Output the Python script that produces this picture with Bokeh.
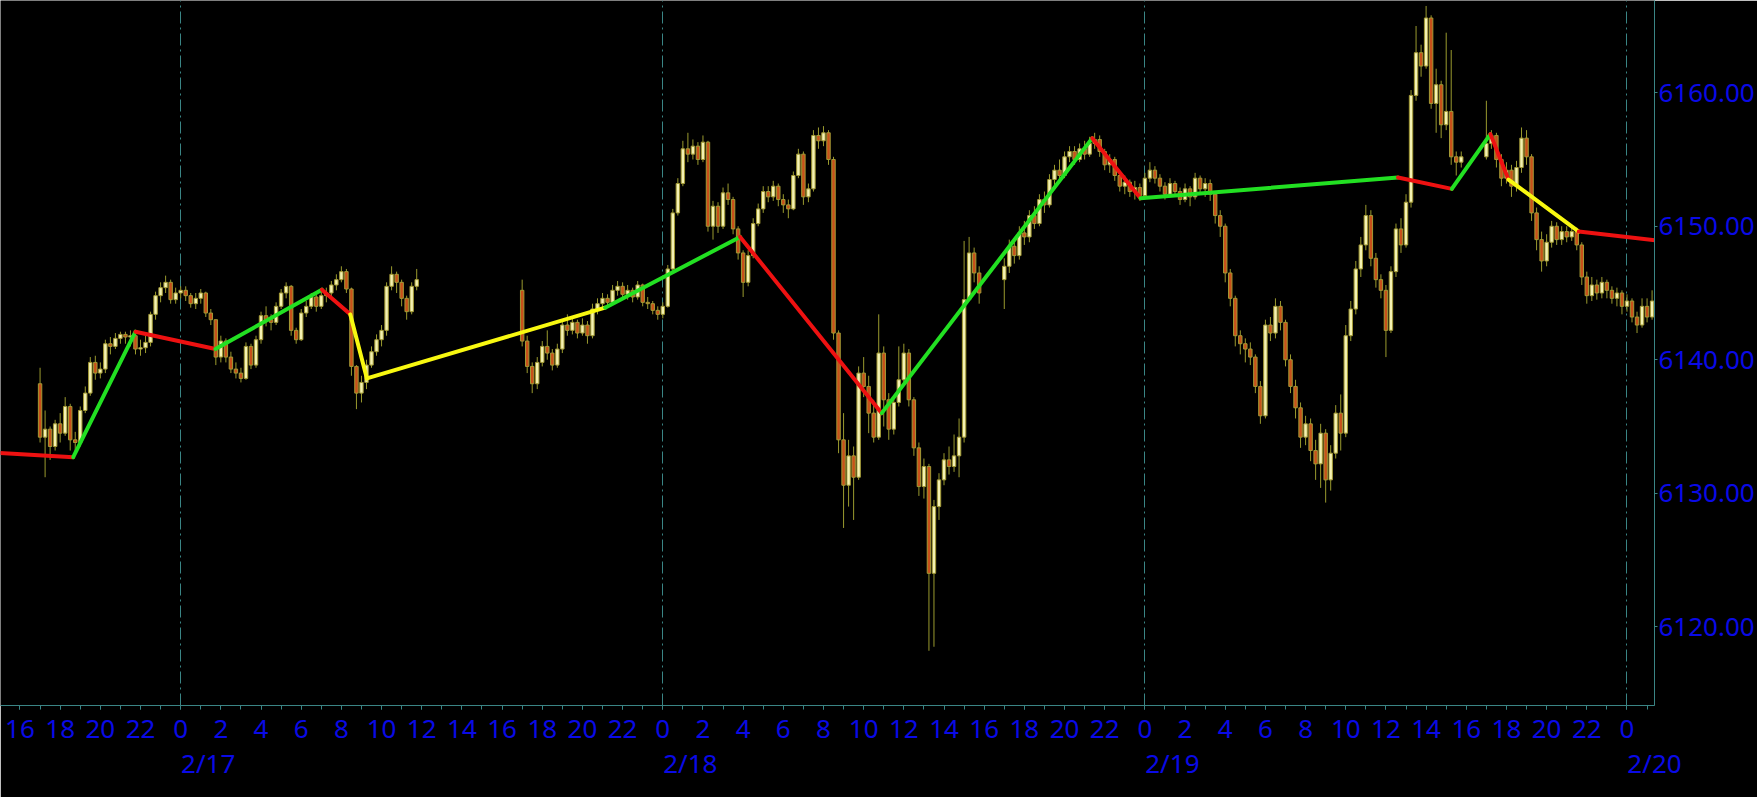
import numpy as np
from bokeh.plotting import figure
from bokeh.models import Range1d, FixedTicker, LinearAxis, PrintfTickFormatter, ColumnDataSource
from bokeh.embed import file_html
from bokeh.resources import INLINE

# ---------------- data (hours counted from 2/17 00:00, 15-minute bars) ----------------
session_start = [-7.0, 17.0, 41.0, 65.0]
session_open = [6138.2, 6145.2, 6146.0, 6155.2]

close_1 = [6134.2, 6134.8, 6133.5, 6135.2, 6134.5, 6136.5, 6134.0, 6133.8, 6136.2, 6137.5,
           6139.8, 6139.0, 6139.3, 6141.2, 6141.0, 6141.6, 6141.9, 6141.7, 6141.8, 6140.8,
           6140.9, 6141.3, 6143.4, 6144.8, 6145.4, 6145.8, 6144.5, 6145.0, 6145.2, 6144.8,
           6144.2, 6144.6, 6145.0, 6143.5, 6143.0, 6140.2, 6141.4, 6140.2, 6139.3, 6139.0,
           6138.6, 6141.0, 6139.6, 6141.5, 6143.3, 6143.0, 6142.8, 6144.0, 6145.0, 6145.5,
           6142.2, 6141.5, 6143.5, 6144.0, 6144.7, 6144.0, 6144.8, 6145.0, 6145.6, 6146.0,
           6146.6, 6145.3, 6139.5, 6137.5, 6138.3, 6139.6, 6140.6, 6141.5, 6142.2, 6145.5,
           6146.4, 6145.8, 6144.6, 6143.6, 6145.5, 6146.0]
high_1 = [6139.4, 6136.2, 6135.0, 6135.5, 6136.0, 6137.2, 6136.7, 6134.6, 6136.5, 6138.0,
          6140.2, 6140.3, 6139.8, 6141.5, 6141.7, 6142.0, 6142.1, 6142.1, 6142.2, 6142.1,
          6141.5, 6141.8, 6143.6, 6145.1, 6145.8, 6146.3, 6146.0, 6145.4, 6145.5, 6145.5,
          6145.0, 6145.0, 6145.3, 6145.1, 6143.8, 6143.0, 6141.8, 6141.6, 6140.6, 6139.8,
          6139.4, 6141.3, 6141.2, 6141.8, 6143.6, 6144.0, 6143.4, 6144.3, 6145.3, 6145.8,
          6145.6, 6142.4, 6143.8, 6144.4, 6145.0, 6144.9, 6145.2, 6145.4, 6145.9, 6146.4,
          6147.0, 6146.8, 6145.4, 6139.6, 6138.8, 6140.0, 6141.0, 6141.9, 6142.6, 6145.8,
          6147.0, 6146.6, 6146.0, 6144.8, 6145.8, 6146.8]
low_1 = [6133.8, 6131.2, 6132.5, 6133.2, 6133.8, 6134.3, 6133.2, 6132.8, 6133.5, 6136.0,
         6137.3, 6138.5, 6138.6, 6139.0, 6140.4, 6140.8, 6141.2, 6141.2, 6141.0, 6140.4,
         6140.3, 6140.5, 6141.0, 6143.0, 6144.3, 6145.0, 6144.2, 6144.2, 6144.6, 6144.4,
         6143.9, 6143.8, 6144.2, 6143.2, 6142.6, 6139.6, 6139.8, 6139.8, 6139.0, 6138.6,
         6138.3, 6138.5, 6139.3, 6139.4, 6141.2, 6142.5, 6142.2, 6142.6, 6143.8, 6144.6,
         6141.8, 6141.2, 6141.4, 6143.2, 6143.8, 6143.6, 6143.8, 6144.3, 6144.6, 6145.2,
         6145.8, 6145.0, 6138.8, 6136.3, 6136.8, 6137.8, 6139.4, 6140.3, 6141.0, 6141.8,
         6145.2, 6145.0, 6144.0, 6143.0, 6143.4, 6145.2]

close_2 = [6141.4, 6139.5, 6138.2, 6139.8, 6141.0, 6140.5, 6139.6, 6140.8, 6142.6, 6142.2,
           6142.8, 6142.0, 6142.6, 6141.8, 6143.8, 6144.2, 6144.6, 6144.3, 6145.2, 6145.5,
           6144.9, 6145.2, 6144.7, 6145.6, 6144.3, 6144.2, 6143.7, 6143.4, 6144.0, 6146.8,
           6151.0, 6153.2, 6155.8, 6155.4, 6156.0, 6155.0, 6156.3, 6150.0, 6151.5, 6150.0,
           6152.5, 6152.0, 6149.8, 6148.0, 6145.8, 6147.8, 6150.2, 6151.3, 6152.6, 6152.2,
           6153.0, 6152.0, 6151.6, 6151.3, 6153.8, 6155.4, 6152.2, 6152.8, 6156.8, 6156.4,
           6157.0, 6155.0, 6142.0, 6134.0, 6130.6, 6132.8, 6131.2, 6139.0, 6138.0, 6136.0,
           6134.2, 6140.5, 6137.0, 6134.8, 6136.8, 6138.5, 6140.5, 6137.0, 6133.4, 6130.5,
           6132.0, 6124.0, 6129.0, 6131.0, 6132.5, 6132.0, 6132.8, 6134.2, 6144.5, 6148.0,
           6146.5, 6145.0]
high_2 = [6146.0, 6141.8, 6139.8, 6140.2, 6141.4, 6142.2, 6140.8, 6141.2, 6143.0, 6143.4,
          6143.2, 6143.0, 6143.1, 6142.9, 6144.2, 6144.6, 6145.0, 6144.9, 6145.6, 6145.9,
          6145.8, 6145.6, 6145.4, 6145.9, 6145.7, 6144.7, 6144.4, 6144.0, 6144.3, 6147.1,
          6151.3, 6153.6, 6156.4, 6157.0, 6156.5, 6156.3, 6156.8, 6156.4, 6151.9, 6151.8,
          6152.9, 6153.2, 6152.2, 6150.0, 6148.2, 6148.2, 6150.6, 6151.7, 6153.0, 6153.0,
          6153.4, 6153.2, 6152.4, 6152.0, 6154.1, 6155.8, 6155.6, 6153.2, 6157.2, 6157.4,
          6157.5, 6157.2, 6155.2, 6142.2, 6136.0, 6134.0, 6133.5, 6139.5, 6140.2, 6138.8,
          6137.0, 6143.4, 6141.0, 6137.5, 6137.2, 6141.0, 6141.2, 6140.8, 6137.2, 6133.8,
          6132.6, 6132.2, 6129.5, 6131.5, 6133.0, 6133.5, 6134.4, 6135.6, 6148.9, 6149.2,
          6148.4, 6147.0]
low_2 = [6141.0, 6139.0, 6137.5, 6137.8, 6139.5, 6140.0, 6139.2, 6139.4, 6140.5, 6141.8,
         6141.9, 6141.6, 6141.8, 6141.2, 6141.6, 6143.4, 6143.9, 6143.9, 6144.1, 6144.8,
         6144.6, 6144.5, 6144.3, 6144.5, 6144.0, 6143.8, 6143.4, 6143.0, 6143.1, 6143.9,
         6146.6, 6150.8, 6153.0, 6154.8, 6155.0, 6154.6, 6154.8, 6149.6, 6149.0, 6149.5,
         6149.8, 6151.6, 6149.4, 6147.5, 6144.7, 6145.5, 6147.6, 6150.0, 6151.0, 6151.8,
         6151.9, 6151.5, 6151.0, 6150.6, 6151.2, 6153.6, 6151.6, 6151.8, 6152.6, 6155.8,
         6156.0, 6154.6, 6141.5, 6133.0, 6127.4, 6129.0, 6128.0, 6131.0, 6137.2, 6134.5,
         6133.8, 6134.0, 6135.0, 6134.0, 6134.4, 6136.5, 6138.2, 6136.5, 6132.8, 6129.8,
         6129.6, 6118.2, 6118.5, 6128.0, 6130.6, 6131.4, 6131.6, 6131.2, 6133.8, 6146.0,
         6145.8, 6144.2]

close_3 = [6147.0, 6148.5, 6147.8, 6149.5, 6149.2, 6150.8, 6150.2, 6152.0, 6151.6, 6153.5,
           6154.2, 6153.8, 6155.2, 6155.6, 6155.0, 6155.8, 6155.4, 6156.2, 6156.5, 6155.6,
           6154.6, 6155.0, 6153.8, 6153.0, 6153.3, 6152.6, 6152.9, 6152.3, 6153.6, 6154.2,
           6153.6, 6153.0, 6152.4, 6153.2, 6152.6, 6152.0, 6152.8, 6152.2, 6153.6, 6152.8,
           6153.2, 6152.4, 6150.8, 6150.0, 6146.5, 6144.6, 6141.8, 6141.2, 6140.8, 6140.2,
           6138.0, 6135.8, 6142.6, 6142.0, 6144.0, 6142.8, 6140.0, 6138.0, 6136.4, 6134.2,
           6135.2, 6133.2, 6132.2, 6134.5, 6131.0, 6133.0, 6136.0, 6134.5, 6141.8, 6143.8,
           6146.8, 6148.6, 6150.8, 6147.6, 6146.0, 6145.2, 6142.2, 6146.6, 6149.8, 6148.6,
           6151.8, 6159.8, 6163.0, 6162.0, 6165.6, 6159.2, 6160.6, 6157.6, 6158.6, 6155.2,
           6154.8, 6155.2]
high_3 = [6147.6, 6149.0, 6149.0, 6150.0, 6150.4, 6151.2, 6151.5, 6152.4, 6152.6, 6153.9,
          6154.6, 6155.0, 6155.6, 6156.0, 6156.0, 6156.2, 6156.4, 6156.7, 6157.0, 6156.8,
          6155.8, 6155.4, 6155.2, 6154.0, 6153.8, 6153.5, 6153.4, 6153.2, 6154.0, 6154.8,
          6154.5, 6153.9, 6153.3, 6153.6, 6153.4, 6152.9, 6153.2, 6153.0, 6154.0, 6153.8,
          6153.6, 6153.5, 6152.6, 6151.2, 6150.2, 6146.8, 6144.8, 6142.2, 6141.6, 6141.3,
          6140.4, 6138.4, 6143.0, 6143.2, 6144.6, 6144.4, 6143.0, 6140.4, 6138.5, 6136.8,
          6135.8, 6135.6, 6134.0, 6135.2, 6134.8, 6133.6, 6136.6, 6137.4, 6142.6, 6144.4,
          6147.4, 6149.2, 6151.6, 6151.2, 6148.0, 6146.4, 6145.6, 6147.0, 6150.2, 6150.6,
          6152.4, 6160.2, 6165.0, 6163.6, 6166.5, 6165.8, 6161.8, 6160.9, 6164.5, 6163.2,
          6155.6, 6155.6]
low_3 = [6143.8, 6146.5, 6147.2, 6147.5, 6148.6, 6148.8, 6149.8, 6150.0, 6151.0, 6151.4,
         6153.0, 6153.4, 6153.6, 6154.8, 6154.6, 6154.8, 6155.0, 6155.2, 6155.8, 6155.2,
         6154.2, 6154.0, 6153.4, 6152.6, 6152.4, 6152.2, 6152.0, 6151.9, 6152.2, 6153.3,
         6153.2, 6152.6, 6152.0, 6152.2, 6152.2, 6151.6, 6151.8, 6151.5, 6152.0, 6152.4,
         6152.2, 6151.9, 6150.2, 6149.2, 6145.8, 6144.0, 6141.0, 6140.4, 6139.8, 6139.6,
         6137.5, 6135.2, 6135.6, 6141.4, 6141.6, 6142.2, 6139.5, 6137.5, 6135.6, 6133.4,
         6133.6, 6132.4, 6131.0, 6130.4, 6129.3, 6130.2, 6132.6, 6133.2, 6134.2, 6141.4,
         6143.4, 6146.2, 6148.2, 6147.0, 6145.4, 6144.6, 6140.2, 6142.0, 6146.2, 6148.0,
         6148.4, 6151.4, 6159.4, 6161.2, 6161.8, 6158.8, 6157.0, 6156.6, 6157.2, 6154.6,
         6153.8, 6154.4]

close_4 = [6156.2, 6156.8, 6155.0, 6153.6, 6154.2, 6153.0, 6154.4, 6156.6, 6155.2, 6151.0,
           6149.0, 6147.4, 6148.8, 6150.0, 6149.0, 6149.6, 6149.2, 6149.6, 6148.6, 6146.2,
           6144.8, 6145.6, 6145.0, 6145.8, 6145.2, 6144.6, 6145.0, 6144.0, 6144.4, 6143.2,
           6142.6, 6144.0, 6143.2, 6144.4]
high_4 = [6159.4, 6157.2, 6157.0, 6155.4, 6154.8, 6154.6, 6154.9, 6157.4, 6157.2, 6155.4,
          6151.4, 6149.6, 6149.4, 6150.4, 6150.3, 6150.0, 6150.0, 6150.0, 6149.9, 6148.8,
          6146.6, 6146.2, 6146.0, 6146.2, 6146.0, 6145.5, 6145.4, 6145.2, 6144.9, 6144.6,
          6143.6, 6144.6, 6144.6, 6145.2]
low_4 = [6155.0, 6155.8, 6154.4, 6153.0, 6153.2, 6152.2, 6152.6, 6154.0, 6154.6, 6150.4,
         6148.2, 6146.6, 6147.0, 6148.4, 6148.6, 6148.6, 6148.8, 6148.9, 6148.2, 6145.6,
         6144.2, 6144.4, 6144.5, 6144.6, 6144.6, 6144.2, 6144.0, 6143.4, 6143.6, 6142.8,
         6142.0, 6142.4, 6142.8, 6143.0]

# zigzag pivots
zz_hours = [-9.5, -5.35, -2.25, 1.73, 7.03, 8.44, 9.27, 21.13, 27.85, 34.9, 45.38, 47.78,
            60.6, 63.28, 65.2, 66.1, 69.6, 73.4]
zz_prices = [6133.05, 6132.7, 6142.1, 6140.8, 6145.25, 6143.4, 6138.6, 6143.9, 6149.2, 6136.0,
             6156.6, 6152.1, 6153.65, 6152.8, 6156.9, 6153.5, 6149.6, 6148.95]
zz_colors = ["red", "green", "red", "green", "red", "yellow", "yellow", "green", "red", "green",
             "red", "green", "red", "green", "red", "yellow", "red"]

# axis ticks
hour_ticks = list(range(-8, 74, 2))
day_ticks = [0, 24, 48, 72]
day_labels = ["2/17", "2/18", "2/19", "2/20"]
price_ticks = [6120, 6130, 6140, 6150, 6160]

# ---------------- styling ----------------
BG = "#000000"
TEAL = "#3a8585"
BLUE = "#0a0ae6"
WICK = "#9a9a2e"
UP_FILL = "#f4f1b2"
DOWN_FILL = "#c8501a"
BODY_LINE = "#a39a35"
ZZ = {"red": "#ee1111", "green": "#22e022", "yellow": "#f8f810"}
FONT = "Noto Sans"
FS = "26px"
DATE_SHIFT = 1.37   # date text starts at the day tick (label centre shifted right)

BAR_H = 0.25

xs, os_, hs, ls, cs = [], [], [], [], []
sessions = [(close_1, high_1, low_1), (close_2, high_2, low_2),
            (close_3, high_3, low_3), (close_4, high_4, low_4)]
for (cl, hi, lo), st, op in zip(sessions, session_start, session_open):
    prev = op
    for i, (c, h, l) in enumerate(zip(cl, hi, lo)):
        xs.append(st + BAR_H * i)
        os_.append(prev)
        cs.append(c)
        hs.append(max(h, prev, c))
        ls.append(min(l, prev, c))
        prev = c

xs = np.array(xs); os_ = np.array(os_); cs = np.array(cs); hs = np.array(hs); ls = np.array(ls)
up = cs >= os_
src = ColumnDataSource(dict(
    x=xs, high=hs, low=ls,
    top=np.maximum(os_, cs), bottom=np.minimum(os_, cs),
    fill=[UP_FILL if u else DOWN_FILL for u in up],
))

p = figure(width=1757, height=797,
           x_range=Range1d(-8.97, 73.37), y_range=Range1d(6114.10, 6166.91),
           output_backend="svg", toolbar_location=None,
           background_fill_color=BG, border_fill_color=BG, outline_line_color=None,
           min_border_left=0, min_border_top=0, min_border_right=102, min_border_bottom=92,
           y_axis_location="right")

# grid: only day separators
p.ygrid.visible = False
p.xgrid.ticker = FixedTicker(ticks=day_ticks)
p.xgrid.grid_line_color = TEAL
p.xgrid.grid_line_dash = "12 4 2 4"
p.xgrid.grid_line_width = 1

# candles
p.segment(x0="x", y0="high", x1="x", y1="low", source=src, line_color=WICK, line_width=1)
p.vbar(x="x", width=0.17, top="top", bottom="bottom", source=src,
       fill_color="fill", line_color=BODY_LINE, line_width=1)

# zigzag
p.segment(x0=zz_hours[:-1], y0=zz_prices[:-1], x1=zz_hours[1:], y1=zz_prices[1:],
          line_color=[ZZ[c] for c in zz_colors], line_width=4, line_cap="round")

# x axis (hours)
xa = p.xaxis[0]
xa.ticker = FixedTicker(ticks=hour_ticks, minor_ticks=list(range(-9, 75)))
xa.major_label_overrides = {t: str(t % 24) for t in hour_ticks}
xa.axis_line_color = TEAL
xa.major_tick_line_color = TEAL
xa.minor_tick_line_color = TEAL
xa.major_tick_in = 0
xa.major_tick_out = 4
xa.minor_tick_in = 0
xa.minor_tick_out = 4
xa.major_label_standoff = 10
xa.major_label_text_color = BLUE
xa.major_label_text_font = FONT
xa.major_label_text_font_size = FS

# second x axis (dates)
date_ticks = [d + DATE_SHIFT for d in day_ticks]
da = LinearAxis(ticker=FixedTicker(ticks=date_ticks, minor_ticks=[]),
                major_label_overrides={t: s for t, s in zip(date_ticks, day_labels)},
                axis_line_color=None, major_tick_line_color=None, minor_tick_line_color=None,
                major_tick_in=0, major_tick_out=0, major_label_standoff=4,
                major_label_text_color=BLUE, major_label_text_font=FONT,
                major_label_text_font_size=FS)
p.add_layout(da, "below")

# y axis (right)
ya = p.yaxis[0]
ya.ticker = FixedTicker(ticks=price_ticks)
ya.formatter = PrintfTickFormatter(format="%.2f")
ya.axis_line_color = TEAL
ya.major_tick_line_color = TEAL
ya.minor_tick_line_color = None
ya.major_tick_in = 0
ya.major_tick_out = 3
ya.major_label_standoff = 1
ya.major_label_text_color = BLUE
ya.major_label_text_font = FONT
ya.major_label_text_font_size = FS

open("out.html", "w").write(file_html(p, INLINE))
